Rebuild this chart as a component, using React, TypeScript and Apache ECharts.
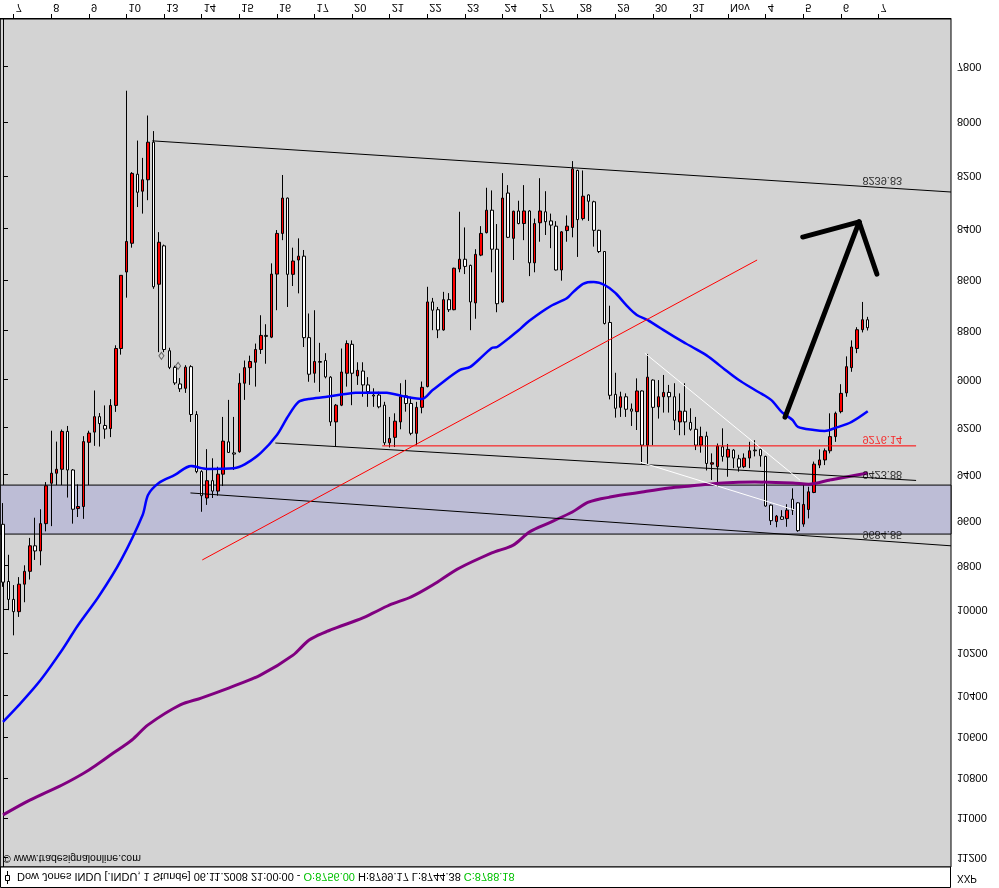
import React, { useEffect, useRef } from "react";
import * as echarts from "echarts";

// ---------- data ----------
const dayLabels = ["7", "8", "9", "10", "13", "14", "15", "16", "17", "20", "21", "22", "23", "24", "27", "28", "29", "30", "31", "Nov", "4", "5", "6", "7"];
const barsBeforeFirstDay = 2;
const barsPerDay = 7;
const totalBars = 177;

// [open, close, low, high] hourly bars
const ohlc: number[][] = [
  [9615, 9873, 9522, 9894], [9870, 9951, 9750, 10000], [9951, 10007, 9886, 10116], [10007, 9882, 9850, 10031],
  [9882, 9824, 9797, 9964], [9824, 9710, 9675, 9861], [9710, 9733, 9586, 9773], [9733, 9612, 9549, 9797],
  [9612, 9447, 9431, 9646], [9436, 9393, 9212, 9623], [9393, 9376, 9258, 9444], [9376, 9215, 9207, 9444],
  [9215, 9379, 9192, 9498], [9379, 9549, 9375, 9612], [9546, 9537, 9441, 9583], [9537, 9258, 9235, 9591],
  [9261, 9222, 9212, 9444], [9218, 9153, 9044, 9276], [9153, 9182, 9138, 9279], [9190, 9205, 9106, 9246],
  [9203, 9106, 9080, 9239], [9106, 8872, 8859, 9133], [8872, 8580, 8580, 8897], [8567, 8448, 7885, 8668],
  [8455, 8189, 8184, 8472], [8192, 8260, 8067, 8316], [8256, 8213, 8131, 8341], [8213, 8073, 7975, 8290],
  [8073, 8625, 8032, 8633], [8615, 8451, 8412, 8887], [8465, 8876, 8460, 8887], [8881, 8949, 8869, 8956],
  [8949, 9013, 8942, 9021], [9017, 9037, 8993, 9050], [9035, 8948, 8940, 9054], [8946, 9144, 8940, 9175],
  [9144, 9386, 9130, 9393], [9386, 9490, 9380, 9560], [9500, 9425, 9290, 9530], [9425, 9470, 9329, 9500],
  [9470, 9397, 9365, 9490], [9397, 9256, 9154, 9448], [9259, 9304, 9083, 9306], [9306, 9311, 9154, 9379],
  [9301, 9014, 8973, 9305], [9014, 8950, 8921, 9083], [8950, 8925, 8901, 9021], [8928, 8876, 8852, 9028],
  [8876, 8819, 8738, 8894], [8819, 8823, 8774, 8934], [8826, 8575, 8533, 8830], [8575, 8417, 8404, 8718],
  [8417, 8282, 8195, 8443], [8282, 8576, 8280, 8705], [8576, 8524, 8472, 8622], [8520, 8505, 8436, 8651],
  [8505, 8828, 8481, 8866], [8828, 8977, 8731, 9008], [8973, 8925, 8718, 9012], [8925, 8928, 8849, 9050],
  [8921, 8988, 8891, 8994], [8989, 9175, 8985, 9192], [9175, 9105, 9100, 9277], [9105, 8968, 8872, 9109],
  [8973, 8852, 8839, 9028], [8855, 8973, 8839, 9105], [8984, 8961, 8928, 9021], [8964, 9021, 8928, 9070],
  [9021, 9049, 8989, 9112], [9063, 9067, 9035, 9112], [9063, 9112, 9049, 9118], [9105, 9263, 9091, 9273],
  [9263, 9245, 9154, 9283], [9240, 9172, 9139, 9281], [9175, 9070, 9014, 9206], [9066, 9098, 9000, 9132],
  [9098, 9223, 9070, 9231], [9223, 9114, 9091, 9273], [9114, 9031, 9007, 9139], [9028, 8685, 8625, 9031],
  [8685, 8718, 8669, 8798], [8716, 8797, 8705, 8830], [8797, 8676, 8645, 8800], [8676, 8716, 8650, 8725],
  [8716, 8552, 8550, 8718], [8555, 8517, 8334, 8568], [8517, 8545, 8394, 8575], [8541, 8685, 8538, 8798],
  [8689, 8498, 8478, 8752], [8501, 8417, 8389, 8505], [8414, 8328, 8243, 8417], [8328, 8478, 8253, 8568],
  [8478, 8692, 8381, 8726], [8685, 8282, 8188, 8688], [8263, 8432, 8233, 8435], [8436, 8332, 8330, 8520],
  [8331, 8379, 8292, 8382], [8379, 8331, 8233, 8443], [8331, 8531, 8328, 8583], [8531, 8379, 8360, 8568],
  [8376, 8331, 8207, 8449], [8334, 8372, 8256, 8423], [8369, 8385, 8341, 8474], [8389, 8559, 8370, 8561],
  [8559, 8411, 8408, 8601], [8406, 8389, 8348, 8449], [8394, 8172, 8143, 8432], [8178, 8364, 8175, 8508],
  [8360, 8275, 8178, 8367], [8270, 8294, 8268, 8369], [8296, 8405, 8292, 8468], [8405, 8487, 8403, 8493],
  [8487, 8771, 8485, 8775], [8767, 9064, 8700, 9081], [9060, 9118, 8971, 9157], [9114, 9070, 9049, 9154],
  [9070, 9122, 9056, 9154], [9121, 9130, 9098, 9192], [9132, 9046, 8994, 9209], [9046, 9273, 9044, 9351],
  [9273, 8989, 8894, 9358], [9001, 9114, 8998, 9273], [9112, 9070, 9001, 9161], [9070, 9052, 8980, 9136],
  [9052, 9070, 9021, 9136], [9070, 9168, 9014, 9209], [9175, 9130, 9056, 9231], [9130, 9175, 9014, 9231],
  [9177, 9206, 9118, 9212], [9206, 9273, 9154, 9294], [9273, 9237, 9195, 9305], [9235, 9351, 9216, 9381],
  [9354, 9348, 9308, 9422], [9365, 9277, 9266, 9451], [9280, 9321, 9202, 9343], [9324, 9291, 9268, 9408],
  [9294, 9328, 9290, 9371], [9331, 9367, 9314, 9386], [9365, 9328, 9308, 9371], [9328, 9297, 9259, 9371],
  [9294, 9297, 9252, 9321], [9291, 9318, 9288, 9365], [9321, 9535, 9318, 9538], [9531, 9599, 9528, 9618],
  [9603, 9579, 9574, 9628], [9582, 9593, 9553, 9596], [9590, 9553, 9527, 9626], [9505, 9553, 9458, 9574],
  [9521, 9643, 9518, 9648], [9614, 9528, 9436, 9626], [9550, 9473, 9451, 9589], [9476, 9354, 9343, 9479],
  [9358, 9336, 9291, 9371], [9336, 9297, 9287, 9358], [9297, 9237, 9139, 9308], [9237, 9139, 9132, 9259],
  [9132, 9056, 9018, 9139], [9054, 8946, 8904, 9070], [8950, 8866, 8839, 8967], [8872, 8796, 8786, 8891],
  [8796, 8756, 8685, 8807], [8756.0, 8788.18, 8744.38, 8799.17],
];

// [bar index, value]
const blueMA: number[][] = [
  [0, 10525], [3, 10443], [7, 10325], [11, 10184], [14, 10068], [18, 9931], [22, 9773], [26, 9574],
  [27, 9487], [29, 9435], [32, 9400], [35, 9362], [38, 9375], [43, 9372], [45, 9355], [48, 9306],
  [51, 9230], [53, 9154], [55, 9092], [57, 9079], [60, 9071], [63, 9061], [66, 9053], [71, 9053],
  [75, 9070], [78, 9079], [80, 9042], [85, 8960], [87, 8947], [91, 8870], [92, 8866], [96, 8798],
  [98, 8760], [102, 8701], [105, 8670], [106, 8649], [108, 8614], [110, 8606], [112, 8618], [114, 8649],
  [116, 8697], [118, 8737], [120, 8757], [123, 8798], [127, 8850], [131, 8900], [134, 8951], [137, 9001],
  [140, 9042], [143, 9083], [145, 9134], [147, 9167], [148, 9196], [151, 9209], [153, 9213], [155, 9200],
  [158, 9175], [161, 9130],
];
const purpleMA: number[][] = [
  [0, 10982], [5, 10908], [11, 10833], [16, 10759], [20, 10685], [24, 10612], [27, 10539], [33, 10443],
  [37, 10410], [42, 10363], [48, 10301], [54, 10208], [57, 10138], [61, 10091], [67, 10036], [72, 9976],
  [76, 9940], [80, 9886], [85, 9809], [91, 9742], [95, 9707], [98, 9649], [102, 9605], [106, 9561],
  [109, 9518], [113, 9496], [119, 9474], [124, 9457], [128, 9448], [134, 9435], [140, 9431], [147, 9435],
  [150, 9440], [154, 9422], [157, 9409], [161, 9392],
];

const yTicks = [7800, 8000, 8200, 8400, 8600, 8800, 9000, 9200, 9400, 9600, 9800, 10000, 10200, 10400, 10600, 10800, 11000, 11200];
const yRange = [7630.6, 11247];

const band = [9444, 9658];
const upperChannel = [[27.8, 8068], [176.5, 8259]];
const lowerChannel = [[34.9, 9478], [176.5, 9710]];
const midLine = [[50.7, 9264], [170.0, 9424]];
const redTrend = [[37.1, 9773], [140.4, 8520]];
const redLevel = [[70.6, 9276.14], [170.0, 9276.14]];
const whiteLine1 = [[119.5, 8891], [148.4, 9423]];
const whiteLine2 = [[118.6, 9345], [147.5, 9553]];
const arrowShaft = [[145.6, 9155], [159.4, 8373]];
const arrowLeft = [[148.9, 8431], [159.4, 8373]];
const arrowRight = [[159.4, 8373], [162.7, 8575]];
const markers = [[29.5, 8902], [32.6, 8943]];

const lineLabels = [
  { value: 8239.83, text: "8239.83", color: "#000000" },
  { value: 9276.14, text: "9276.14", color: "#ff0000" },
  { value: 9423.88, text: "9423.88", color: "#000000" },
  { value: 9684.85, text: "9684.85", color: "#000000" },
];
const labelBar = 160;

const headerMain = "Dow Jones INDU [.INDU, 1 Stunde] 06.11.2008 21:00:00 - ";
const headerOpen = "O:8756.00";
const headerMid = " H:8799.17 L:8744.38 ";
const headerClose = "C:8788.18";
const watermark = "\u00a9 www.tradesignalonline.com";

// ---------- chart ----------
const L = Math.log;
const FONT = "Liberation Sans";

function pts(a: number[][]) {
  return a.map((p) => [p[0], L(p[1])]);
}

function seg(name: string, data: number[][], color: string, width: number, z = 5, cap = "butt") {
  return {
    name,
    type: "line",
    xAxisIndex: 1,
    yAxisIndex: 0,
    data: pts(data),
    symbol: "none",
    showSymbol: false,
    silent: true,
    z,
    lineStyle: { color, width, cap },
  };
}

export default function App() {
  const ref = useRef<HTMLDivElement>(null);
  useEffect(() => {
    if (!ref.current) return;
    const chart = echarts.init(ref.current, undefined, { renderer: "svg" });

    const cats: string[] = [];
    for (let i = 0; i < totalBars; i++) {
      const k = i - barsBeforeFirstDay;
      if (k >= 0 && k % barsPerDay === 0 && k / barsPerDay < dayLabels.length) cats.push(dayLabels[k / barsPerDay]);
      else cats.push("");
    }
    const tickVals = yTicks.map(L);

    const option: any = {
      animation: false,
      backgroundColor: "#ffffff",
      grid: {
        left: 0,
        right: 48,
        top: 21,
        bottom: 19,
        show: true,
        backgroundColor: "#d3d3d3",
        borderColor: "#000000",
        borderWidth: 1,
        containLabel: false,
      },
      xAxis: [
        {
          type: "category",
          data: cats,
          boundaryGap: true,
          position: "bottom",
          axisLine: { show: true, lineStyle: { color: "#000" } },
          axisTick: {
            show: true,
            alignWithLabel: true,
            interval: (_i: number, v: string) => v !== "",
            length: 5,
            lineStyle: { color: "#000" },
          },
          axisLabel: {
            interval: 0,
            align: "left",
            margin: 5,
            padding: [0, 0, 0, 2],
            color: "#000",
            fontSize: 11,
            fontFamily: FONT,
          },
          splitLine: { show: false },
        },
        { type: "value", min: -0.5, max: totalBars - 0.5, show: false },
      ],
      yAxis: {
        type: "value",
        position: "right",
        min: L(yRange[0]),
        max: L(yRange[1]),
        splitLine: { show: false },
        axisLine: { show: true, lineStyle: { color: "#000" } },
        axisTick: { show: true, length: 5, customValues: tickVals, lineStyle: { color: "#000" } },
        axisLabel: {
          customValues: tickVals,
          formatter: (v: number) => String(Math.round(Math.exp(v))),
          margin: 6,
          color: "#000",
          fontSize: 11,
          fontFamily: FONT,
        },
      },
      series: [
        {
          name: "band",
          type: "line",
          xAxisIndex: 1,
          yAxisIndex: 0,
          data: [[-0.5, L(band[0])]],
          showSymbol: false,
          symbol: "none",
          lineStyle: { opacity: 0 },
          silent: true,
          z: 1,
          markArea: {
            silent: true,
            itemStyle: { color: "#bdbdd6", borderColor: "#000", borderWidth: 1 },
            data: [[{ yAxis: L(band[0]) }, { yAxis: L(band[1]) }]],
          },
        },
        {
          name: "INDU",
          type: "candlestick",
          xAxisIndex: 0,
          yAxisIndex: 0,
          barWidth: 3,
          z: 2,
          silent: true,
          data: ohlc.map((d) => [L(d[0]), L(d[1]), L(d[2]), L(d[3])]),
          itemStyle: {
            color: "#ffffff",
            color0: "#ff0000",
            borderColor: "#000000",
            borderColor0: "#000000",
            borderColorDoji: "#000000",
            borderWidth: 1,
          },
        },
        { ...seg("purple", purpleMA, "#800080", 3, 4), smooth: 0.3 },
        { ...seg("blue", blueMA, "#0000ff", 2.5, 4), smooth: 0.3 },
        seg("upper", upperChannel, "#000000", 1),
        seg("lower", lowerChannel, "#000000", 1),
        seg("mid", midLine, "#000000", 1),
        seg("redTrend", redTrend, "#ff0000", 1),
        seg("redLevel", redLevel, "#ff0000", 1),
        seg("white1", whiteLine1, "#ffffff", 1),
        seg("white2", whiteLine2, "#ffffff", 1),
        seg("arrow1", arrowShaft, "#000000", 5, 8, "round"),
        seg("arrow2", arrowLeft, "#000000", 5, 8, "round"),
        seg("arrow3", arrowRight, "#000000", 5, 8, "round"),
        {
          name: "markers",
          type: "scatter",
          xAxisIndex: 1,
          yAxisIndex: 0,
          symbol: "diamond",
          symbolSize: [5, 7],
          silent: true,
          z: 6,
          itemStyle: { color: "#d3d3d3", borderColor: "#444", borderWidth: 1 },
          data: pts(markers),
        },
        {
          name: "labels",
          type: "scatter",
          xAxisIndex: 1,
          yAxisIndex: 0,
          symbolSize: 2,
          silent: true,
          z: 10,
          itemStyle: { color: "rgba(0,0,0,0)" },
          data: lineLabels.map((l) => ({
            value: [labelBar, L(l.value)],
            label: {
              show: true,
              formatter: l.text,
              position: [1, 1],
              align: "left",
              verticalAlign: "top",
              color: l.color,
              fontSize: 11,
              fontFamily: FONT,
            },
          })),
        },
      ],
      graphic: [
        {
          type: "rect",
          shape: { x: 0.5, y: 0.5, width: 950, height: 20.5 },
          style: { fill: "#ffffff", stroke: "#000000", lineWidth: 1 },
          z: 100,
        },
        {
          type: "line",
          shape: { x1: 7.5, y1: 4, x2: 7.5, y2: 17 },
          style: { stroke: "#000", lineWidth: 1 },
          z: 101,
        },
        {
          type: "rect",
          shape: { x: 5.5, y: 7.5, width: 4, height: 5 },
          style: { fill: "#fff", stroke: "#000", lineWidth: 1 },
          z: 102,
        },
        {
          type: "text",
          x: 17,
          y: 11,
          z: 101,
          style: {
            text: `{k|${headerMain}}{g|${headerOpen}}{k|${headerMid}}{g|${headerClose}}`,
            verticalAlign: "middle",
            rich: {
              k: { fill: "#000000", fontSize: 11, fontFamily: FONT },
              g: { fill: "#00c000", fontSize: 11, fontFamily: FONT },
            },
          },
        },
        {
          type: "text",
          x: 3,
          y: 29,
          z: 101,
          style: { text: watermark, fill: "#000", fontSize: 10.5, fontFamily: FONT, verticalAlign: "middle" },
        },
        {
          type: "text",
          x: 957,
          y: 9,
          z: 101,
          style: { text: "XXP", fill: "#000", fontSize: 10, fontFamily: FONT, verticalAlign: "middle" },
        },
      ],
    };
    chart.setOption(option);
    return () => chart.dispose();
  }, []);

  return (
    <div
      ref={ref}
      style={{
        position: "fixed",
        left: 0,
        top: 0,
        width: 999,
        height: 888,
        transform: "scaleY(-1)",
        background: "#ffffff",
      }}
    />
  );
}
